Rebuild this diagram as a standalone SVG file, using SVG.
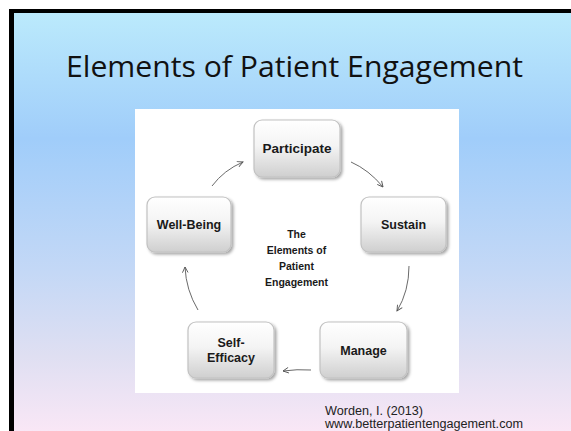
<svg xmlns="http://www.w3.org/2000/svg" width="571" height="431" viewBox="0 0 571 431">
  <defs>
    <linearGradient id="slideBg" x1="0" y1="0" x2="0" y2="1">
      <stop offset="0" stop-color="#bbeafc"/>
      <stop offset="0.3" stop-color="#a0cdfa"/>
      <stop offset="0.62" stop-color="#c4d8f6"/>
      <stop offset="0.82" stop-color="#dfdff2"/>
      <stop offset="1" stop-color="#f9e7f6"/>
    </linearGradient>
    <linearGradient id="boxFill" x1="0" y1="0" x2="0" y2="1">
      <stop offset="0" stop-color="#ffffff"/>
      <stop offset="0.45" stop-color="#f4f4f4"/>
      <stop offset="1" stop-color="#cfcfcf"/>
    </linearGradient>
    <filter id="boxShadow" x="-20%" y="-20%" width="150%" height="150%">
      <feDropShadow dx="2" dy="2" stdDeviation="1.6" flood-color="#000" flood-opacity="0.35"/>
    </filter>
    <marker id="arrowOpen" viewBox="0 0 10 10" refX="9" refY="5" markerWidth="7" markerHeight="7" orient="auto" markerUnits="userSpaceOnUse">
      <path d="M1,1 L9,5 L1,9" fill="none" stroke="#555" stroke-width="1.3"/>
    </marker>
    <style>
      .box { fill: url(#boxFill); stroke: #c2c2c2; stroke-width: 1.2; filter: url(#boxShadow); }
      .label { font-family: "Liberation Sans", Arial, sans-serif; font-weight: bold; font-size: 12.5px; fill: #1a1a1a; text-anchor: middle; }
      .center { font-family: "Liberation Sans", Arial, sans-serif; font-weight: bold; font-size: 10.5px; fill: #1a1a1a; text-anchor: middle; }
      .conn { fill: none; stroke: #6a6a6a; stroke-width: 1; marker-end: url(#arrowOpen); }
      .cite { font-family: "Liberation Sans", Arial, sans-serif; font-size: 12.5px; fill: #222; }
    </style>
  </defs>

  <!-- slide frame and background -->
  <rect x="0" y="0" width="571" height="431" fill="#ffffff"/>
  <rect x="9" y="9" width="562" height="422" fill="#000000"/>
  <rect x="14" y="13" width="557" height="418" fill="url(#slideBg)"/>

  <!-- title -->
  <text x="294.5" y="77" font-family="'Open Sans', 'Liberation Sans', sans-serif" font-size="30" fill="#111" text-anchor="middle" textLength="457" lengthAdjust="spacingAndGlyphs">Elements of Patient Engagement</text>

  <!-- picture panel -->
  <rect x="135" y="109" width="324" height="284" fill="#ffffff"/>

  <!-- connectors -->
  <g id="connectors">
    <path class="conn" d="M212,186 Q224,170 243,162"/>
    <path class="conn" d="M351,162 Q369,170 383,187"/>
    <path class="conn" d="M409,266 Q409,291 397,311"/>
    <path class="conn" d="M311,370 Q297,369 283,371"/>
    <path class="conn" d="M198,310 Q186,290 185,267"/>
  </g>

  <g id="participate">
    <rect class="box" x="254" y="120" width="86" height="57" rx="8"/>
    <text class="label" x="297" y="153" textLength="69" lengthAdjust="spacingAndGlyphs">Participate</text>
  </g>

  <g id="sustain">
    <rect class="box" x="361" y="197" width="85" height="55" rx="8"/>
    <text class="label" x="403.5" y="229">Sustain</text>
  </g>

  <g id="manage">
    <rect class="box" x="320" y="322" width="87" height="56" rx="8"/>
    <text class="label" x="363.5" y="355">Manage</text>
  </g>

  <g id="self-efficacy">
    <rect class="box" x="188" y="322" width="86" height="56" rx="8"/>
    <text class="label" x="231" y="347">Self-</text>
    <text class="label" x="231" y="362">Efficacy</text>
  </g>

  <g id="well-being">
    <rect class="box" x="147" y="197" width="84" height="55" rx="8"/>
    <text class="label" x="189" y="229">Well-Being</text>
  </g>

  <g id="center-label">
    <text class="center" x="296.5" y="238">The</text>
    <text class="center" x="296.5" y="254">Elements of</text>
    <text class="center" x="296.5" y="270">Patient</text>
    <text class="center" x="296.5" y="286">Engagement</text>
  </g>

  <!-- citation -->
  <text class="cite" x="325" y="415" textLength="98" lengthAdjust="spacingAndGlyphs">Worden, I. (2013)</text>
  <text class="cite" x="325" y="428" textLength="198" lengthAdjust="spacingAndGlyphs">www.betterpatientengagement.com</text>
</svg>
